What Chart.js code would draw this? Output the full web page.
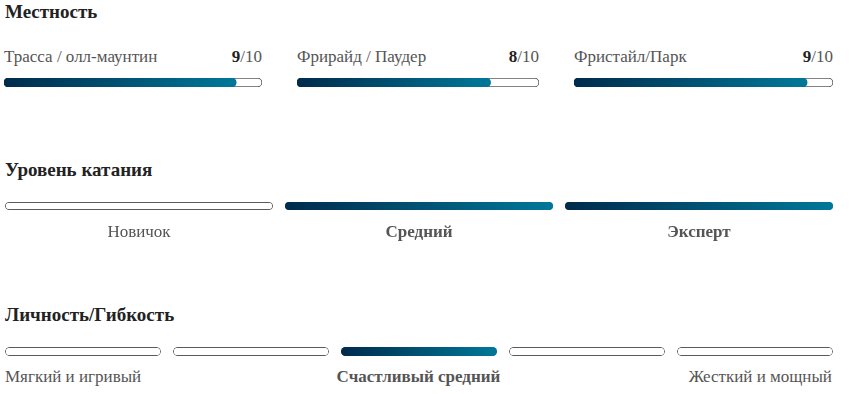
<!DOCTYPE html>
<html>
<head>
<meta charset="utf-8">
<script src="https://cdn.jsdelivr.net/npm/chart.js@4"></script>
<style>
  body {
    margin: 0;
    background: #fff;
    width: 850px;
    height: 394px;
    position: relative;
    overflow: hidden;
    font-family: "Liberation Serif", "Times New Roman", serif;
  }
  h3 {
    position: absolute;
    left: 5px;
    margin: 0;
    font-size: 19px;
    line-height: 22px;
    font-weight: bold;
    color: #222;
  }
  .lbl {
    position: absolute;
    font-size: 17px;
    line-height: 20px;
    color: #555;
    display: flex;
    justify-content: space-between;
  }
  .lbl b { color: #222; }
  .row3 {
    position: absolute;
    left: 5px;
    width: 827px;
    top: 367px;
    font-size: 17px;
    line-height: 20px;
    color: #555;
    display: grid;
    grid-template-columns: 1fr 1fr 1fr;
  }
  canvas { position: absolute; }
</style>
</head>
<body>
<h3 style="top:1px">Местность</h3>
<h3 style="top:159px">Уровень катания</h3>
<h3 style="top:304px">Личность/Гибкость</h3>
<div class="row3" id="flexLabels"></div>

<script>
// terrain ratings (out of 10)
const terrainNames = ["Трасса / олл-маунтин", "Фрирайд / Паудер", "Фристайл/Парк"];
const terrainScores = [9, 8, 9];
const terrainMax = 10;

// riding level
const levelNames = ["Новичок", "Средний", "Эксперт"];
const levelOn = [0, 1, 1];

// personality / flex
const flexNames = ["Мягкий и игривый", "", "Счастливый средний", "", "Жесткий и мощный"];
const flexOn = [0, 0, 1, 0, 0];

const FONT = "'Liberation Serif', 'Times New Roman', serif";
const TRACK = "#5a5a5a";

function barGradient(ctx, x0, x1) {
  const g = ctx.createLinearGradient(x0, 0, x1, 0);
  g.addColorStop(0, "#002b4c");
  g.addColorStop(1, "#007899");
  return g;
}

const baseOptions = {
  responsive: false,
  animation: false,
  events: [],
  plugins: { legend: { display: false }, tooltip: { enabled: false } },
};

// --- Местность: one small horizontal bar per terrain ---
const terrainBoxes = [[4, 258], [297, 242], [574, 259]]; // left, width
terrainNames.forEach((name, i) => {
  const [left, width] = terrainBoxes[i];

  const lbl = document.createElement("div");
  lbl.className = "lbl";
  lbl.style.left = left + "px";
  lbl.style.width = width + "px";
  lbl.style.top = "47px";
  lbl.innerHTML = `<span>${name}</span><span><b>${terrainScores[i]}</b>/${terrainMax}</span>`;
  document.body.appendChild(lbl);

  const cv = document.createElement("canvas");
  cv.width = width + 2;
  cv.height = 11;
  cv.style.left = left - 1 + "px";
  cv.style.top = "77px";
  document.body.appendChild(cv);

  new Chart(cv, {
    type: "bar",
    data: {
      labels: [name],
      datasets: [
        {
          data: [terrainScores[i]],
          backgroundColor: (c) => {
            const ch = c.chart;
            if (!ch.chartArea) return "#00506f";
            const x = ch.scales.x;
            return barGradient(ch.ctx, x.getPixelForValue(0), x.getPixelForValue(terrainScores[i]));
          },
          borderWidth: 0,
          borderRadius: 5,
          borderSkipped: false,
          grouped: false,
          barPercentage: 1,
          categoryPercentage: 1,
        },
        {
          data: [terrainMax],
          backgroundColor: "#fff",
          borderColor: TRACK,
          borderWidth: 1,
          borderRadius: 5,
          borderSkipped: false,
          grouped: false,
          barPercentage: 1,
          categoryPercentage: 1,
        },
      ],
    },
    options: {
      ...baseOptions,
      indexAxis: "y",
      layout: { padding: 1 },
      scales: {
        x: { display: false, min: 0, max: terrainMax },
        y: { display: false },
      },
    },
  });
});

// segmented bar row (level / flex)
function segmentChart(top, height, axisHeight, names, on, pct, showTicks) {
  const cv = document.createElement("canvas");
  cv.width = 840;
  cv.height = height;
  cv.style.left = "-1px";
  cv.style.top = top + "px";
  document.body.appendChild(cv);

  const n = names.length;
  return new Chart(cv, {
    type: "bar",
    data: {
      labels: names,
      datasets: [
        {
          data: on.map((v) => (v ? 1 : null)),
          backgroundColor: (c) => {
            const ch = c.chart;
            if (!ch.chartArea) return "#00506f";
            const x = ch.scales.x;
            const half = (ch.chartArea.width / n) * pct / 2;
            const mid = x.getPixelForValue(c.dataIndex);
            return barGradient(ch.ctx, mid - half, mid + half);
          },
          borderWidth: 0,
          borderRadius: 5,
          borderSkipped: false,
          grouped: false,
          barPercentage: 1,
          categoryPercentage: pct,
        },
        {
          data: on.map(() => 1),
          backgroundColor: "#fff",
          borderColor: TRACK,
          borderWidth: 1,
          borderRadius: 5,
          borderSkipped: false,
          grouped: false,
          barPercentage: 1,
          categoryPercentage: pct,
        },
      ],
    },
    options: {
      ...baseOptions,
      layout: { padding: { top: 1, bottom: 0, left: 0, right: 0 } },
      scales: {
        y: { display: false, min: 0, max: 1 },
        x: {
          display: showTicks,
          afterFit: (s) => {
            s.height = axisHeight;
          },
          grid: { display: false, drawTicks: false },
          border: { display: false },
          ticks: {
            padding: 12,
            color: "#555",
            font: (c) => ({
              family: FONT,
              size: 17,
              weight: on[c.index] ? "bold" : "normal",
            }),
          },
        },
      },
    },
  });
}

// --- Уровень катания ---
segmentChart(201, 49, 40, levelNames, levelOn, 268 / 280, true);

// --- Личность/Гибкость ---
segmentChart(346, 10, 0, flexNames, flexOn, 156 / 168, false);

const flexBox = document.getElementById("flexLabels");
const flexShown = flexNames.filter((s) => s);
flexShown.forEach((s, i) => {
  const sp = document.createElement("span");
  sp.textContent = s;
  sp.style.textAlign = ["left", "center", "right"][i];
  if (flexOn[flexNames.indexOf(s)]) {
    sp.style.fontWeight = "bold";
  }
  flexBox.appendChild(sp);
});
</script>
</body>
</html>
